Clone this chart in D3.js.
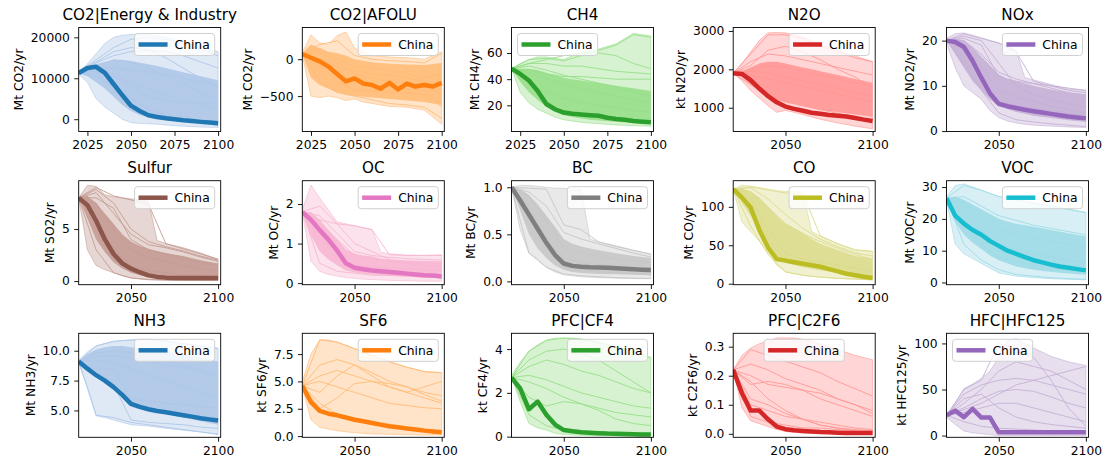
<!DOCTYPE html>
<html><head><meta charset="utf-8">
<script src="https://cdn.jsdelivr.net/npm/d3@7"></script>
<style>
body{margin:0;background:#fff;}
text{font-family:"DejaVu Sans",sans-serif;fill:#000;}
</style></head><body>
<svg id="c" width="1108" height="466"></svg>
<script>
// ---------- data ----------
const YEARS5 = [2020,2025,2030,2035,2040,2045,2050,2055,2060,2065,2070,2075,2080,2085,2090,2095,2100];
const YEARS_ENV = [2020,2025,2030,2035,2040,2045,2050,2055,2060,2065,2070,2080,2090,2100];
const YEARS10 = [2020,2030,2040,2050,2060,2070,2080,2090,2100];

const TITLES = ["CO2|Energy & Industry","CO2|AFOLU","CH4","N2O","NOx","Sulfur","OC","BC","CO","VOC","NH3","SF6","PFC|CF4","PFC|C2F6","HFC|HFC125"];
const UNITS = ["Mt CO2/yr","Mt CO2/yr","Mt CH4/yr","kt N2O/yr","Mt NO2/yr","Mt SO2/yr","Mt OC/yr","Mt BC/yr","Mt CO/yr","Mt VOC/yr","Mt NH3/yr","kt SF6/yr","kt CF4/yr","kt C2F6/yr","kt HFC125/yr"];
const SERIES_NAME = "China";

const YTICKS = [[0,10000,20000],[-500,0],[20,40,60],[1000,2000,3000],[0,10,20],[0,5],[0,1,2],[0,0.5,1],[0,50,100],[0,10,20,30],[5,7.5,10],[0,2.5,5,7.5],[0,2,4],[0,0.1,0.2,0.3],[0,50,100]];
const YTICK_DEC = [0,0,0,0,0,0,0,1,0,0,1,1,0,1,0];
const YLIM = [[-3000,22400],[-980,430],[0,79.5],[380,3090],[-0.1,22.9],[-0.35,9.65],[-0.04,2.59],[-0.035,1.07],[-1.3,134],[-0.7,32],[2.75,11.46],[-0.11,9.4],[-0.03,4.72],[-0.012,0.346],[-1.9,111]];
const XLIM = [2020,2101.5];
const XTICKS_FIRST = [2025,2050,2075,2100];
const XTICKS_REST = [2050,2100];

const CHINA = [
 [11300,12500,12800,11300,8600,5900,3300,2000,950,550,250,0,-250,-450,-650,-820,-1000],
 [70,20,-30,-100,-200,-300,-260,-330,-350,-400,-320,-410,-330,-370,-350,-370,-320],
 [48,44,39,31,21,17,14.5,13.5,13,12.5,12,10.5,9.5,9,8,7.5,7],
 [1900,1880,1720,1500,1300,1140,1030,970,920,870,840,810,790,770,730,690,655],
 [20,19.7,18.6,15.5,11.8,8.3,6,5.5,5.1,4.7,4.4,4.1,3.8,3.5,3.2,3,2.8],
 [8,7.3,5.8,4,2.6,1.7,1.2,0.85,0.55,0.4,0.33,0.3,0.3,0.3,0.3,0.3,0.3],
 [1.8,1.6,1.34,1.1,0.82,0.5,0.39,0.35,0.32,0.3,0.28,0.26,0.24,0.22,0.2,0.19,0.17],
 [1,0.86,0.71,0.56,0.41,0.28,0.19,0.165,0.155,0.15,0.148,0.145,0.14,0.135,0.13,0.125,0.12],
 [123,112,99,70,47,32,30,28,26,24,22,19,16,13,11,9,7.5],
 [26.5,21,18.5,16.5,15,13,11.5,10,9,8,7,6.3,5.6,5,4.6,4.2,3.8],
 [9.1,8.5,7.95,7.5,6.95,6.3,5.55,5.3,5.1,4.95,4.85,4.72,4.6,4.48,4.35,4.25,4.15],
 [4.6,3.1,2.3,2.05,1.9,1.7,1.5,1.35,1.2,1.05,0.9,0.8,0.7,0.6,0.5,0.43,0.35],
 [2.7,2.2,1.25,1.6,1.0,0.55,0.3,0.25,0.2,0.18,0.16,0.14,0.13,0.12,0.11,0.1,0.1],
 [0.22,0.14,0.08,0.08,0.05,0.025,0.016,0.012,0.01,0.008,0.006,0.005,0.004,0.003,0.003,0.003,0.003],
 [22,27,20,29,19.5,19.5,3.5,3.5,3.5,3.5,3.5,3.5,3.5,3.5,3.5,3.5,3.5]
];

const RANGE_HI = [
 [11500,13500,16000,18500,20000,20500,20700,20800,20700,20400,20000,19000,17800,16500],
 [90,330,220,200,320,370,150,100,50,40,30,20,0,100],
 [48,52,55,57,57,56,55,58,60,62,63,67,75,73],
 [1900,2150,2450,2750,2950,2960,2950,2900,2850,2750,2650,2500,2350,2200],
 [20.5,21.5,21.7,21.2,20.6,20,19.4,18.8,17.8,11.8,11.3,10.3,9.3,9],
 [8,9.2,9.1,8.3,8.1,8,7.9,7.8,7.7,3.9,3.6,3.2,2.7,2.1],
 [1.85,2.48,2.15,1.85,1.55,1.5,1.45,1.4,1.36,0.78,0.74,0.71,0.7,0.72],
 [1,1.02,1.02,1.01,1,0.99,0.99,0.98,0.98,0.45,0.42,0.38,0.33,0.29],
 [123,128,127,125,123,121,120,120,119,68,62,52,44,42],
 [27,30.5,31,30,29,28,27,26.5,26,25.5,25,24,23,22],
 [9.2,9.9,10.4,10.6,10.75,10.85,10.9,10.95,10.95,10.9,10.8,10.6,10.4,10.2],
 [5,7.5,8.8,8.8,8.6,8.3,8,7.7,7.4,7.1,6.8,6.3,5.9,5.8],
 [2.8,3.4,3.9,4.2,4.4,4.5,4.5,4.5,4.45,4.4,4.3,4.1,3.9,3.6],
 [0.22,0.27,0.295,0.31,0.32,0.33,0.33,0.33,0.325,0.32,0.31,0.29,0.27,0.255],
 [22,35,51,56,62,70,85,103,105,100,95,86,80,76]
];
const RANGE_LO = [
 [11000,9000,5000,3000,1500,0,-800,-1000,-1100,-1200,-1400,-1700,-1900,-2000],
 [60,-500,-520,-500,-520,-560,-540,-580,-600,-620,-640,-650,-690,-880],
 [48,30,22,17,14,11,9,8,7,6.5,6,5,4.5,4],
 [1900,1700,1450,1250,1050,880,930,880,820,760,700,600,520,450],
 [19.5,14,10,8.5,7,4.5,3,2.2,1.8,1.5,1.3,1.1,0.9,0.8],
 [8,3,1.5,1.1,0.8,0.5,0.3,0.2,0.12,0.1,0.08,0.06,0.05,0.05],
 [1.8,0.55,0.3,0.22,0.18,0.14,0.12,0.1,0.09,0.08,0.07,0.06,0.05,0.05],
 [1,0.55,0.3,0.24,0.15,0.1,0.07,0.06,0.05,0.045,0.04,0.035,0.03,0.03],
 [123,80,68,55,40,24,16,13,11,9.5,8.5,7,6,5],
 [26,12,9,7.5,6,4.5,3,2.5,2,1.8,1.5,1.2,1,0.8],
 [9,7,4.55,4.4,4.2,4,3.8,3.75,3.7,3.6,3.5,3.35,3.2,3],
 [4.5,1.5,0.8,0.65,0.5,0.4,0.3,0.25,0.2,0.18,0.16,0.13,0.1,0.1],
 [2.7,1.6,0.6,0.4,0.3,0.15,0.1,0.08,0.06,0.05,0.04,0.03,0.02,0.02],
 [0.22,0.09,0.045,0.035,0.025,0.015,0.008,0.005,0.003,0.002,0.001,0,0,0],
 [20,12,5,3,2,1,0,0,0,0,0,0,0,0]
];
// dense middle of the scenario bundle (null where the bundle is sparse)
const CORE_HI = [
 [11500,12500,13500,14000,14500,14500,14200,13800,13400,13000,12500,11500,10500,9500],
 [80,200,150,100,80,50,0,-20,-40,-50,-60,-70,-80,-50],
 [48,48,48,47,45,43,41,40,39,38,37,35,33,31],
 [1900,1950,2050,2150,2200,2200,2150,2100,2050,2000,1950,1850,1750,1650],
 [20,20.5,20,18.5,16.5,14.5,12.5,11.5,11,10.5,10,9.2,8.5,8],
 [8,8.2,7.5,6.5,5.5,4.5,3.8,3.4,3.1,2.9,2.7,2.4,2,1.7],
 [1.8,1.8,1.6,1.35,1.1,0.85,0.75,0.7,0.68,0.62,0.6,0.58,0.56,0.55],
 [1,0.98,0.92,0.82,0.7,0.58,0.45,0.4,0.37,0.35,0.33,0.3,0.27,0.25],
 [123,124,120,112,100,88,78,72,66,58,52,44,36,32],
 [26.5,27,26,24.5,23,21.5,20,19.2,18.5,18,17.5,16.5,15.5,14.5],
 [9.1,9.7,10.1,10.3,10.4,10.4,10.3,10.2,10.1,10,9.9,9.7,9.4,9.1],
 null,null,null,null
];
const CORE_LO = [
 [11200,10500,9000,7500,5500,3500,2000,1000,500,200,0,-300,-500,-700],
 [60,-250,-350,-400,-450,-480,-500,-510,-520,-530,-540,-560,-580,-620],
 [48,38,30,24,19,15,12.5,11,10,9,8.5,7.5,6.5,6],
 [1900,1800,1600,1450,1300,1200,1150,1100,1050,1000,950,880,820,760],
 [20,17,14,11,9,7,5.5,4.8,4.2,3.8,3.4,2.9,2.4,2],
 [8,6,4,2.8,1.8,1.2,0.8,0.55,0.4,0.3,0.25,0.2,0.18,0.15],
 [1.8,1.2,0.8,0.6,0.45,0.32,0.27,0.24,0.22,0.2,0.18,0.16,0.14,0.12],
 [1,0.75,0.5,0.35,0.25,0.17,0.12,0.1,0.09,0.085,0.08,0.075,0.07,0.065],
 [123,105,88,70,52,36,28,25,23,21,19,15,12,10],
 [26,19,15,12.5,10.5,8.5,7,6,5,4.5,4,3.3,2.8,2.4],
 [9.1,8.5,7.9,7.3,6.8,6.2,5.6,5.3,5.1,4.9,4.7,4.4,4.1,3.8],
 null,null,null,null
];

const SCENARIOS = [
 [[11500,14500,17500,19500,20000,19500,18500,17000,15500],[11400,13800,15500,16500,16800,16500,15500,14000,12500],[11300,12500,12500,12000,11500,11000,10000,9000,8000],[11300,11500,10500,9000,7500,6000,4500,3500,2500],[11300,10500,8000,5000,2500,1000,0,-800,-1500],[11200,13000,14500,14000,12500,10500,8500,6500,5000],[11300,12000,11000,8000,5500,4500,4000,4000,4000],[11400,14000,16500,17500,17000,15000,12500,10000,8000]],
 [[70,200,250,50,0,-20,-30,-50,80],[60,-100,-200,-300,-350,-380,-400,-420,-650],[80,0,-100,-150,-200,-220,-250,-300,-500],[70,-300,-450,-500,-550,-600,-620,-650,-800],[60,100,-50,-200,-250,-300,-320,-330,-300],[70,-50,-300,-420,-430,-450,-460,-480,-600],[70,150,0,-100,-120,-150,-200,-250,-200]],
 [[48,55,56,54,58,62,66,74,72],[48,52,52,50,50,48,46,45,44],[48,50,47,43,40,37,34,30,27],[48,45,40,36,33,30,27,24,22],[48,38,30,25,22,20,18,16,15],[48,52,55,58,60,60,58,52,48],[48,47,44,42,42,41,40,40,40]],
 [[1900,2400,2900,2900,2800,2600,2450,2300,2200],[1900,2200,2400,2350,2250,2150,2050,1950,1850],[1900,2000,2100,2050,1950,1850,1750,1650,1550],[1900,1850,1750,1650,1550,1450,1350,1250,1150],[1900,1600,1300,1150,1050,950,850,750,650],[1900,2100,2500,2600,2450,2250,2000,1800,1500],[1900,1950,1900,1800,1700,1600,1500,1400,1300]],
 [[20,21.5,20.5,19.5,17.5,11,10,9,8.5],[20,20,17,13,11.5,10.5,9.5,8.5,8],[20,19,14,9,7.5,6.5,5.5,4.8,4],[20,15,9,4,2.5,2,1.6,1.3,1],[20,20.5,19,12,11,10.5,10,9.5,9],[20,18,12,6.5,5.5,5,4.5,4,3.5],[20,21,20,15,10,8,7,6,5.5]],
 [[8,9,8.2,7.8,7.4,3.6,3.1,2.6,2.1],[8,8.5,6.5,4.5,3.5,3.2,2.8,2.3,1.9],[8,7.5,5,3,2.3,1.9,1.5,1.2,1],[8,3,0.8,0.3,0.15,0.1,0.08,0.06,0.05],[8,8.8,7.5,5,3.8,3.3,2.9,2.4,2],[8,6,3,1.5,1,0.8,0.6,0.5,0.4],[8,8,7,4,3,2.6,2.2,1.8,1.5]],
 [[1.8,1.95,1.5,1.45,1.35,0.72,0.7,0.7,0.7],[1.8,1.5,1.1,0.7,0.6,0.55,0.5,0.5,0.5],[1.8,0.5,0.3,0.25,0.2,0.2,0.18,0.15,0.14],[1.8,1.7,1.25,0.8,0.7,0.65,0.62,0.6,0.58],[1.8,1.3,0.6,0.45,0.4,0.38,0.36,0.35,0.33],[1.8,1.6,1.5,1.0,0.8,0.6,0.5,0.45,0.4]],
 [[1,0.99,0.98,0.6,0.55,0.42,0.37,0.33,0.29],[1,0.95,0.8,0.52,0.45,0.4,0.35,0.3,0.26],[1,0.8,0.45,0.25,0.2,0.18,0.16,0.14,0.12],[1,0.3,0.15,0.08,0.06,0.05,0.04,0.035,0.03],[1,0.9,0.65,0.35,0.3,0.27,0.24,0.22,0.2],[1,0.7,0.35,0.15,0.12,0.1,0.09,0.08,0.07]],
 [[123,126,122,118,117,62,52,44,42],[123,120,100,78,65,55,46,38,32],[123,110,70,40,32,28,24,20,16],[123,75,38,15,11,8.5,7,6,5],[123,125,110,90,72,58,48,40,36],[123,100,60,28,22,18,15,12,10]],
 [[26.5,30.5,29,27,26,25,24,23,22],[26.5,27,24,21,19.5,18,17,16,15],[26.5,22,16,12,10,9,8,7,6],[26.5,12,7,4,2.5,2,1.5,1.2,1],[26.5,25,21,17,15,14,13,12,11],[26.5,18,12,8,6.5,5.5,4.5,4,3.5]],
 [[9.1,10.4,10.8,10.9,10.95,10.8,10.6,10.4,10.2],[9.1,9.8,10,9.8,9.5,9.2,8.8,8.4,8],[9.1,4.6,4.4,4,3.8,3.6,3.4,3.2,3],[9.1,8.5,8.5,6,5.8,5.6,5.5,5.3,5.2],[9.1,9.2,9,8.5,8,7.5,7,6.5,6],[9.1,8,7.2,4.2,4,3.9,3.8,3.6,3.5],[9.1,9.5,9.6,9.4,9.2,8.8,8.6,8.2,7.8]],
 [[4.6,8.8,8.6,8,7.4,6.8,6.3,5.9,5.8],[4.6,5.5,6,5.5,5,4.5,4,3.5,3],[4.6,4,5.5,6.5,5.5,4.5,4,4.5,5],[4.6,3,2,1.5,1.2,1,0.8,0.6,0.5],[4.6,5,4.5,4,3.5,3,2.8,2.6,2.5],[4.6,6.5,7,6.5,5.8,5,4.5,3.8,3.2],[4.6,2.5,3.5,4.8,5,4.8,4.5,4,3.7]],
 [[2.7,3.9,4.4,4.5,4.45,4.3,4.1,3.9,3.6],[2.7,3.2,3.5,3.3,3,2.8,2.5,2.2,2],[2.7,2.5,2.2,1.8,1.5,1.3,1.1,1,0.9],[2.7,1,0.5,0.3,0.2,0.15,0.12,0.1,0.1],[2.7,2.8,2.6,2.3,2,1.8,1.6,1.4,1.3],[2.7,3.5,3.9,4,3.8,3.5,3,2.5,2],[2.7,1.8,1.4,1.6,1.5,1.2,0.8,0.6,0.5]],
 [[0.22,0.24,0.22,0.19,0.17,0.15,0.12,0.1,0.08],[0.22,0.2,0.17,0.16,0.15,0.14,0.12,0.1,0.07],[0.22,0.29,0.27,0.25,0.23,0.21,0.18,0.155,0.13],[0.22,0.17,0.18,0.17,0.15,0.12,0.1,0.08,0.06],[0.22,0.1,0.08,0.06,0.05,0.04,0.03,0.02,0.015],[0.22,0.06,0.04,0.03,0.02,0.02,0.015,0.01,0.01],[0.22,0.12,0.1,0.07,0.05,0.03,0.02,0.015,0.01],[0.22,0.18,0.12,0.08,0.05,0.03,0.02,0.01,0.005]],
 [[22,50,60,100,95,85,60,30,10],[22,45,55,60,62,60,55,50,45],[22,30,40,48,50,48,42,35,30],[22,25,30,35,35,30,25,20,15],[22,15,10,8,7,6,5,4,3],[22,35,50,70,80,75,70,60,50],[22,40,45,30,20,15,12,10,8],[22,28,35,45,55,60,65,70,75]]
];

// ---------- style / layout ----------
const DARK = ['#1f77b4','#ff7f0e','#2ca02c','#d62728','#9467bd','#8c564b','#e377c2','#7f7f7f','#bcbd22','#17becf','#1f77b4','#ff7f0e','#2ca02c','#d62728','#9467bd'];
const LIGHT = ['#aec7e8','#ffbb78','#98df8a','#ff9896','#c5b0d5','#c49c94','#f7b6d2','#c7c7c7','#dbdb8d','#9edae5','#aec7e8','#ffbb78','#98df8a','#ff9896','#c5b0d5'];
const LEGEND_LOC = ['ur','ur','ul','ur','ur','ur','ur','ur','ur','ur','ur','ur','ur','uc','ul'];
const COL_X = [78.7, 302.3, 511.5, 733.2, 946.5];
const ROW_Y = [27.5, 180.7, 333.3];
const W = 142, H = 104;
const FS = 12.3, TFS = 15.2, TICK = 4.4, PAD = 4.4;

const svg = d3.select('#c');
svg.append('rect').attr('width',1108).attr('height',466).attr('fill','#fff');
const defs = svg.append('defs');

TITLES.forEach((title, i) => {
  const col = i % 5, row = Math.floor(i / 5);
  const g = svg.append('g').attr('transform', `translate(${COL_X[col]},${ROW_Y[row]})`);
  const x = d3.scaleLinear().domain(XLIM).range([0, W]);
  const y = d3.scaleLinear().domain(YLIM[i]).range([H, 0]);
  const cid = 'clip' + i;
  defs.append('clipPath').attr('id', cid).append('rect').attr('width', W).attr('height', H);
  const plot = g.append('g').attr('clip-path', `url(#${cid})`);

  const area = (lo) => d3.area().x((d, j) => x(YEARS_ENV[j])).y0((d, j) => y(lo[j])).y1(d => y(d));
  plot.append('path').datum(RANGE_HI[i]).attr('d', area(RANGE_LO[i]))
    .attr('fill', LIGHT[i]).attr('fill-opacity', 0.4)
    .attr('stroke', LIGHT[i]).attr('stroke-opacity', 0.6).attr('stroke-width', 1);
  if (CORE_HI[i]) {
    plot.append('path').datum(CORE_HI[i]).attr('d', area(CORE_LO[i]))
      .attr('fill', LIGHT[i]).attr('fill-opacity', 0.9);
  }
  const line10 = d3.line().x((d, j) => x(YEARS10[j])).y(d => y(d));
  plot.selectAll('path.scen').data(SCENARIOS[i]).join('path').attr('class', 'scen')
    .attr('d', line10).attr('fill', 'none').attr('stroke', LIGHT[i])
    .attr('stroke-width', 1).attr('stroke-opacity', 0.9);
  const line5 = d3.line().x((d, j) => x(YEARS5[j])).y(d => y(d));
  plot.append('path').datum(CHINA[i]).attr('d', line5).attr('fill', 'none')
    .attr('stroke', DARK[i]).attr('stroke-width', 4.5).attr('stroke-linejoin', 'round');

  // axes
  const xa = g.append('g').attr('transform', `translate(0,${H})`)
    .call(d3.axisBottom(x).tickValues(i < 3 ? XTICKS_FIRST : XTICKS_REST).tickFormat(d3.format('d')).tickSize(TICK).tickPadding(PAD));
  const dec = YTICK_DEC[i];
  const ya = g.append('g')
    .call(d3.axisLeft(y).tickValues(YTICKS[i]).tickFormat(d3.format(dec ? `.${dec}f` : 'd')).tickSize(TICK).tickPadding(PAD));
  [xa, ya].forEach(a => {
    a.attr('font-size', null).attr('font-family', null);
    a.select('.domain').remove();
    a.selectAll('.tick line').attr('stroke', '#000').attr('stroke-width', 0.9);
    a.selectAll('.tick text').attr('font-size', FS).attr('fill', '#000');
  });
  g.append('rect').attr('width', W).attr('height', H).attr('fill', 'none')
    .attr('stroke', '#000').attr('stroke-width', 0.9);

  // y label
  const maxW = d3.max(ya.selectAll('.tick text').nodes(), n => n.getComputedTextLength());
  const lx = -(TICK + PAD + maxW + 5 + 3);
  g.append('text').attr('transform', `translate(${lx},${H / 2}) rotate(-90)`)
    .attr('text-anchor', 'middle').attr('font-size', FS).text(UNITS[i]);

  // title
  g.append('text').attr('x', W / 2).attr('y', -7.5).attr('text-anchor', 'middle')
    .attr('font-size', TFS).text(title);

  // legend
  const lg = g.append('g');
  const lt = lg.append('text').attr('font-size', FS).attr('dominant-baseline', 'central').text(SERIES_NAME);
  const tw = lt.node().getComputedTextLength();
  const bw = 40 + tw + 5, bh = 22;
  let bx = W - 6 - bw;
  if (LEGEND_LOC[i] === 'ul') bx = 6;
  if (LEGEND_LOC[i] === 'uc') bx = (W - bw) / 2;
  const by = 6;
  lg.insert('rect', 'text').attr('x', bx).attr('y', by).attr('width', bw).attr('height', bh)
    .attr('rx', 3).attr('fill', '#fff').attr('fill-opacity', 0.8)
    .attr('stroke', '#d0d0d0').attr('stroke-width', 1);
  lg.insert('line', 'text').attr('x1', bx + 4).attr('x2', bx + 33).attr('y1', by + bh / 2).attr('y2', by + bh / 2)
    .attr('stroke', DARK[i]).attr('stroke-width', 4.5);
  lt.attr('x', bx + 40).attr('y', by + bh / 2 + 0.5);
});
</script>
</body></html>
